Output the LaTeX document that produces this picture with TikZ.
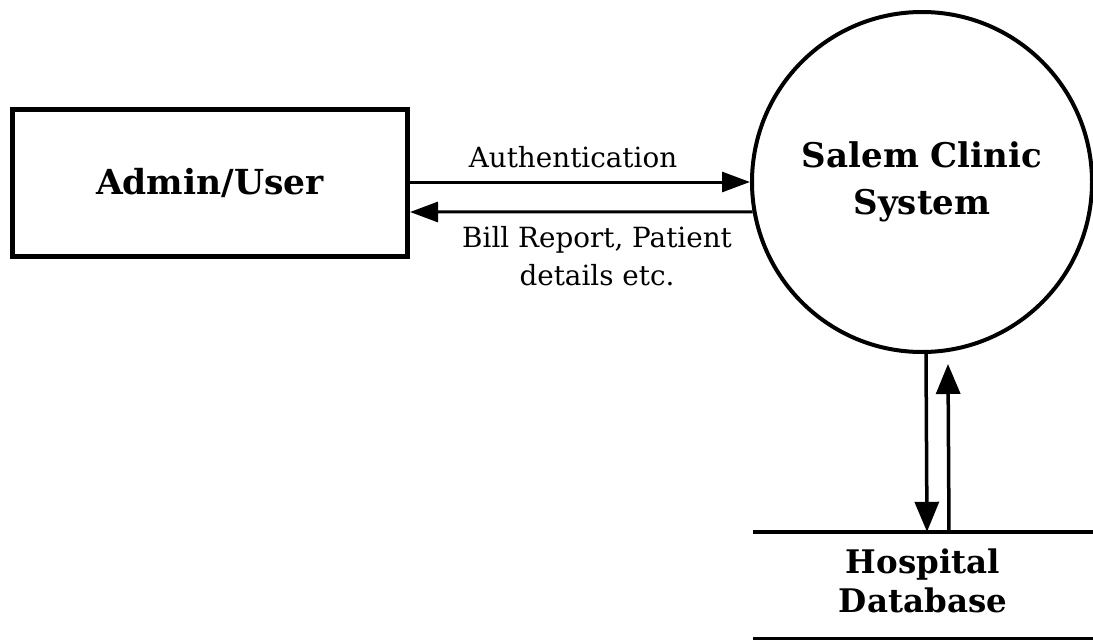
\documentclass[tikz,border=0pt]{standalone}
\usepackage{fontspec}
\setmainfont{DejaVu Serif}
\usetikzlibrary{arrows.meta}
\begin{document}
\begin{tikzpicture}[x=1pt,y=-1pt,
  box/.style={draw,line width=5pt,inner sep=0pt,minimum width=395pt,minimum height=147pt,font=\fontsize{34.5}{40}\selectfont\bfseries},
  proc/.style={draw,circle,line width=4pt,inner sep=0pt,minimum size=340pt,align=center,font=\fontsize{34}{47}\selectfont\bfseries},
  store/.style={inner sep=0pt,minimum width=340pt,minimum height=106pt,align=center,font=\fontsize{32.5}{39}\selectfont\bfseries},
  flow/.style={line width=3pt,-{Triangle[length=28pt,width=20pt]}},
  vflow/.style={line width=3.5pt,-{Triangle[length=30pt,width=24pt]}},
  lbl/.style={inner sep=0pt,align=center,font=\fontsize{27.8}{38}\selectfont}]
\useasboundingbox (0,0) rectangle (1093,640);
\node[box] (admin) at (210,183) {Admin/User};
\node[proc] (sys) at (922,182) {Salem Clinic\\System};
\node[store] (db) at (923,581) {Hospital\\Database};
\draw[line width=4pt] ([yshift=-4pt]db.north west) coordinate (dbtop) -- ([yshift=-4pt]db.north east);
\draw[line width=3pt] ([yshift=-4pt]db.south west) -- ([yshift=-4pt]db.south east);
\draw[flow] ([yshift=1pt]admin.east) -- (sys.west);
\draw[flow] (sys.190) -- ([yshift=-29pt]admin.east);
\draw[vflow] ([xshift=4pt]sys.south) -- ([xshift=4pt,yshift=-4pt]db.north);
\draw[vflow] ([xshift=26pt,yshift=-4pt]db.north) -- ([xshift=26pt,yshift=-10pt]sys.south);
\node[lbl] (auth) at (573,157) {Authentication};
\node[lbl] (bill) at (597,256) {Bill Report, Patient\\details etc.};
\end{tikzpicture}
\end{document}
